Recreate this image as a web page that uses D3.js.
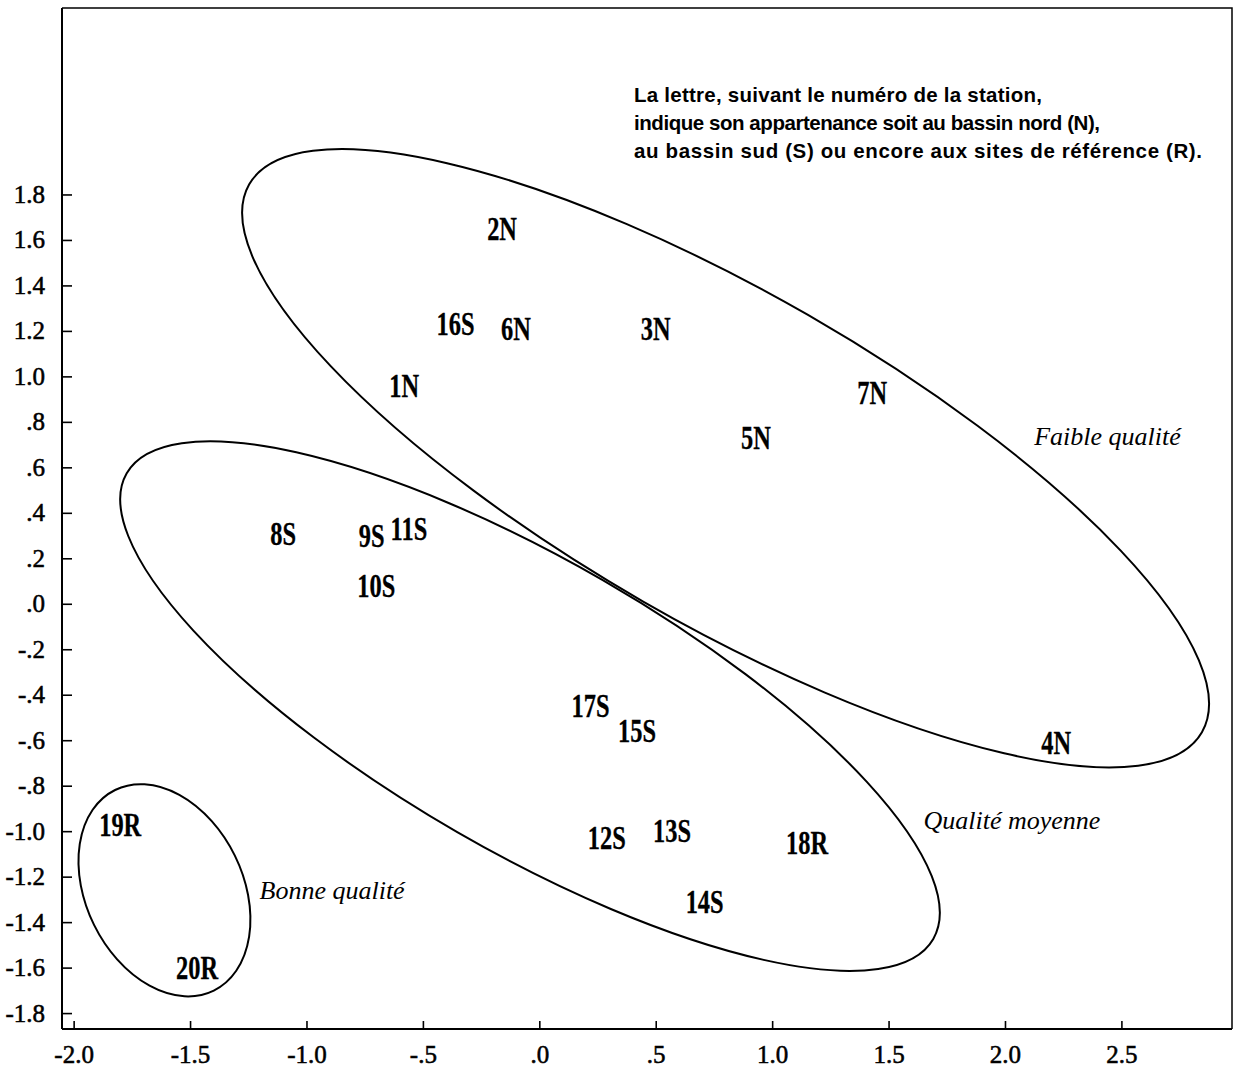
<!DOCTYPE html>
<html>
<head>
<meta charset="utf-8">
<script src="https://cdn.jsdelivr.net/npm/d3@7"></script>
<style>
  body { margin: 0; background: #fff; }
  svg { display: block; }
</style>
</head>
<body>
<svg id="chart" width="1241" height="1076"></svg>
<script>
// Station scores on the first two factorial axes
const stations = ["1N","2N","3N","4N","5N","6N","7N","8S","9S","10S",
                  "11S","12S","13S","14S","15S","16S","17S","18R","19R","20R"];
const axis1 = [-0.58, -0.16, 0.50, 2.22, 0.93, -0.10, 1.43, -1.10, -0.72, -0.70,
               -0.56, 0.29, 0.57, 0.71, 0.42, -0.36, 0.22, 1.15, -1.80, -1.47];
const axis2 = [0.96, 1.65, 1.21, -0.61, 0.73, 1.21, 0.93, 0.31, 0.30, 0.08,
               0.33, -1.03, -1.00, -1.31, -0.56, 1.23, -0.45, -1.05, -0.97, -1.60];

// Tick values and their printed labels
const xTicks = [-2.0, -1.5, -1.0, -0.5, 0.0, 0.5, 1.0, 1.5, 2.0, 2.5];
const xTickLabels = ["-2.0","-1.5","-1.0","-.5",".0",".5","1.0","1.5","2.0","2.5"];
const yTicks = [1.8, 1.6, 1.4, 1.2, 1.0, 0.8, 0.6, 0.4, 0.2, 0.0,
                -0.2, -0.4, -0.6, -0.8, -1.0, -1.2, -1.4, -1.6, -1.8];
const yTickLabels = ["1.8","1.6","1.4","1.2","1.0",".8",".6",".4",".2",".0",
                     "-.2","-.4","-.6","-.8","-1.0","-1.2","-1.4","-1.6","-1.8"];

// Quality groups: ellipse centre, semi-axes (axis units) and tilt (degrees)
const groupNames = ["Faible qualité", "Qualité moyenne", "Bonne qualité"];
const groupCx = [0.80, -0.04, -1.61];
const groupCy = [0.64, -0.45, -1.26];
const groupRa = [2.36, 2.00, 0.48];
const groupRb = [0.71, 0.625, 0.337];
const groupTilt = [29.9, 30.0, 63.8];
const groupLabelX = [2.44, 2.03, -0.89];
const groupLabelY = [0.74, -0.95, -1.26];

const noteLines = [
  "La lettre, suivant le numéro de la station,",
  "indique son appartenance soit au bassin nord (N),",
  "au bassin sud (S) ou encore aux sites de référence (R)."
];
const noteWidths = [408, 466, 568];

// ---- layout ----
const frame = { left: 62, right: 1232, top: 8, bottom: 1029 };
const svg = d3.select("#chart");

const x = d3.scaleLinear().domain([-2.05, 2.975]).range([frame.left, frame.right]);
const y = d3.scaleLinear().domain([-1.87, 2.62]).range([frame.bottom, frame.top]);
const pxPerUnit = x(1) - x(0);

// frame top and right edges
svg.append("path")
  .attr("d", `M${frame.left},${frame.top}H${frame.right}V${frame.bottom}`)
  .attr("fill", "none").attr("stroke", "#000").attr("stroke-width", 1.5);

// axes with inward ticks
const serif = "'Liberation Serif','Times New Roman',serif";
const yAxis = d3.axisLeft(y).tickValues(yTicks)
  .tickFormat((d, i) => yTickLabels[i])
  .tickSizeInner(-10).tickSizeOuter(0).tickPadding(17);
const xAxis = d3.axisBottom(x).tickValues(xTicks)
  .tickFormat((d, i) => xTickLabels[i])
  .tickSizeInner(-8).tickSizeOuter(0).tickPadding(16);

const gy = svg.append("g").attr("transform", `translate(${frame.left},0)`).call(yAxis);
const gx = svg.append("g").attr("transform", `translate(0,${frame.bottom})`).call(xAxis);
gy.select(".domain").attr("d", `M0,${frame.top}V${frame.bottom}`);
gx.select(".domain").attr("d", `M${frame.left},0H${frame.right}`);
[gx, gy].forEach(g => {
  g.selectAll(".domain").attr("stroke", "#000").attr("stroke-width", 2);
  g.selectAll(".tick line").attr("stroke", "#000").attr("stroke-width", 1.6);
  g.selectAll(".tick text")
    .attr("fill", "#000")
    .attr("stroke", "#000").attr("stroke-width", 0.55)
    .style("font-family", serif).style("font-size", "25px");
});

// group ellipses
const groups = groupNames.map((name, i) => ({
  name, cx: groupCx[i], cy: groupCy[i], ra: groupRa[i], rb: groupRb[i],
  tilt: groupTilt[i], lx: groupLabelX[i], ly: groupLabelY[i]
}));
svg.append("g").selectAll("ellipse").data(groups).join("ellipse")
  .attr("transform", d => `translate(${x(d.cx)},${y(d.cy)}) rotate(${d.tilt})`)
  .attr("rx", d => d.ra * pxPerUnit)
  .attr("ry", d => d.rb * pxPerUnit)
  .attr("fill", "none").attr("stroke", "#000").attr("stroke-width", 2);

svg.append("g").selectAll("text").data(groups).join("text")
  .attr("x", d => x(d.lx)).attr("y", d => y(d.ly))
  .attr("dy", "0.35em").attr("text-anchor", "middle")
  .style("font-family", serif).style("font-style", "italic")
  .style("font-size", "26px").attr("fill", "#000")
  .text(d => d.name);

// station labels drawn at their scores
const points = stations.map((s, i) => ({ s, a: axis1[i], b: axis2[i] }));
svg.append("g").selectAll("text").data(points).join("text")
  .attr("transform", d => `translate(${x(d.a)},${y(d.b)}) scale(0.74,1)`)
  .attr("dy", "0.34em").attr("text-anchor", "middle")
  .style("font-family", serif).style("font-weight", "bold")
  .style("font-size", "33px").attr("fill", "#000")
  .attr("stroke", "#000").attr("stroke-width", 0.3)
  .text(d => d.s);

// explanatory note
svg.append("g").selectAll("text").data(noteLines).join("text")
  .attr("x", 634).attr("y", (d, i) => 102 + i * 28)
  .attr("textLength", (d, i) => noteWidths[i])
  .attr("lengthAdjust", "spacing")
  .style("font-family", "'Liberation Sans',Arial,sans-serif")
  .style("font-weight", "bold").style("font-size", "20.5px")
  .attr("fill", "#000")
  .text(d => d);
</script>
</body>
</html>
